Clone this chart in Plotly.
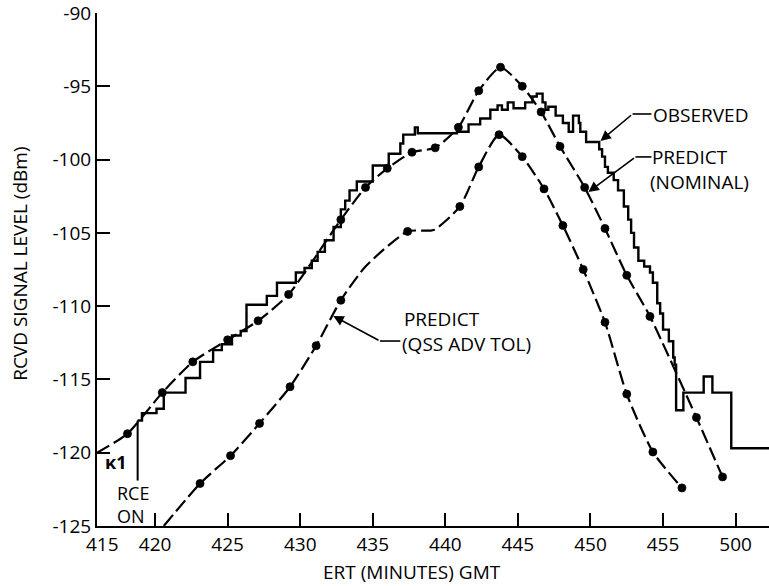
import plotly.graph_objects as go

# ---------------- data ----------------
obs_x = [418.8, 419.1, 420.1, 420.6, 422.1, 423.1, 424.0, 424.6, 425.3, 425.9, 426.3, 427.7, 428.4,
         429.7, 430.3, 430.8, 431.2, 431.7, 432.3, 432.8, 433.1, 433.4, 433.9, 435.0, 436.1, 436.9,
         437.1, 437.9, 438.1, 440.8, 441.6, 442.4, 443.1, 443.6, 443.9, 444.3, 444.7, 445.5, 446.0,
         446.3, 446.7, 446.9, 447.1, 447.6, 448.1, 448.5, 448.8, 449.2, 449.3, 449.7, 450.6, 450.8,
         451.0, 451.2, 451.6, 451.9, 452.3, 452.6, 452.8, 453.0, 453.3, 453.7, 454.1, 454.3, 454.6,
         454.8, 455.0, 455.4, 455.7, 455.8, 455.9, 456.4, 457.8, 458.4, 459.7, 462.3]
obs_y = [-117.8, -117.3, -117.0, -115.9, -114.9, -113.8, -113.0, -112.6, -112.0, -111.7, -109.9, -109.3,
         -108.4, -107.7, -107.4, -106.9, -106.3, -105.5, -104.6, -103.4, -102.8, -102.1, -101.5, -100.4,
         -99.6, -98.9, -98.3, -97.8, -98.2, -98.1, -97.6, -97.2, -96.6, -96.3, -96.6, -96.1, -96.5,
         -96.1, -95.7, -95.5, -96.1, -96.6, -96.4, -97.0, -97.5, -98.1, -97.0, -97.5, -98.1, -98.8,
         -99.3, -99.8, -100.5, -100.9, -101.4, -102.1, -103.2, -104.1, -105.0, -106.0, -106.9, -107.3,
         -107.7, -108.4, -109.8, -110.5, -111.6, -112.4, -113.5, -114.0, -117.1, -115.9, -114.8,
         -115.9, -119.7, -119.7]

nom_x = [416.0, 418.1, 420.5, 422.6, 425.0, 427.1, 429.2, 432.8, 434.5, 436.0, 437.7, 439.3,
         440.9, 442.3, 443.8, 445.3, 446.6, 447.9, 449.6, 451.0, 452.5, 454.1, 457.3, 459.1]
nom_y = [-120.0, -118.7, -115.9, -113.8, -112.3, -111.0, -109.2, -104.1, -101.9, -100.6, -99.5, -99.2,
         -97.8, -95.3, -93.7, -95.0, -96.75, -99.1, -101.9, -104.7, -107.9, -110.7, -117.6, -121.65]

qss_x = [420.6, 423.1, 425.2, 427.2, 429.3, 431.1, 432.8, 434.5, 437.4, 439.2, 441.0, 442.3,
         443.7, 445.3, 446.8, 448.1, 449.5, 451.0, 452.5, 454.3, 456.3]
qss_y = [-125.0, -122.1, -120.2, -118.0, -115.5, -112.7, -109.6, -107.3, -104.9, -104.8, -103.2, -100.5,
         -98.3, -99.8, -102.0, -104.5, -107.5, -111.1, -116.0, -119.95, -122.4]

x_tick_vals = [420, 425, 430, 435, 440, 445, 450, 455, 460]
x_tick_text = ["420", "425", "430", "435", "440", "445", "450", "455", "500"]
y_tick_vals = [-125, -120, -115, -110, -105, -100, -95, -90]
y_tick_text = ["-125", "-120", "-115", "-110", "-105", "-100", "-95", "-90"]

FONT = "Open Sans"
BLACK = "#000000"

fig = go.Figure()

def dots(xs, skip):
    return [0 if i in skip else 8 for i in range(len(xs))]

for xs, ys, skip, nm in [(nom_x, nom_y, {0}, "PREDICT (NOMINAL)"),
                         (qss_x, qss_y, {0, 7, 9}, "PREDICT (QSS ADV TOL)")]:
    fig.add_trace(go.Scatter(x=xs, y=ys, mode="lines", name=nm,
                             line=dict(color=BLACK, width=2.2, dash="14px,5px",
                                       shape="spline", smoothing=0.6)))
    fig.add_trace(go.Scatter(x=xs, y=ys, mode="markers", name=nm,
                             marker=dict(color=BLACK, opacity=1, size=dots(xs, skip),
                                         line=dict(width=0.8, color=BLACK))))
fig.add_trace(go.Scatter(x=obs_x, y=obs_y, mode="lines",
                         line=dict(color=BLACK, width=2.4, shape="hv"), name="OBSERVED"))

# RCE ON marker line
fig.add_shape(type="line", x0=obs_x[0], x1=obs_x[0], y0=obs_y[0], y1=-121.9,
              line=dict(color=BLACK, width=2), xref="x", yref="y")

tf = dict(family=FONT, size=19, color=BLACK)
sf = dict(family=FONT, size=18, color=BLACK)

def label(x, y, text, xanchor="left", font=tf):
    fig.add_annotation(x=x, y=y, xref="x", yref="y", text=text, showarrow=False,
                       xanchor=xanchor, yanchor="middle", align="left", font=font)

def pointer(hx, hy, tx, ty, ex):
    fig.add_annotation(x=hx, y=hy, ax=tx, ay=ty, xref="x", yref="y", axref="x", ayref="y",
                       text="", showarrow=True, arrowhead=2, arrowsize=1.3, arrowwidth=1.6,
                       arrowcolor=BLACK)
    fig.add_shape(type="line", x0=tx, x1=ex, y0=ty, y1=ty, xref="x", yref="y",
                  line=dict(color=BLACK, width=1.6))

label(454.2, -96.95, "OBSERVED")
pointer(450.69, -98.73, 452.9, -96.89, 454.2)
label(453.95, -100.7, "&#8202;PREDICT<br>(NOMINAL)")
pointer(449.86, -102.21, 453.1, -99.82, 454.2)
label(436.9, -111.75, "&#8202;PREDICT<br>(QSS ADV TOL)")
pointer(432.28, -110.67, 435.5, -112.38, 436.9)
label(417.24, -123.5, "RCE<br>ON", "left", sf)
label(417.25, -120.6, "<b>ĸ1</b>", "center", dict(family=FONT, size=18, color=BLACK))

# axis titles and the first x tick label
fig.add_annotation(x=416.35, y=0, xref="x", yref="paper", text="415", showarrow=False,
                   yanchor="top", yshift=-3, font=tf)
fig.add_annotation(x=0.469, y=-0.0897, xref="paper", yref="paper", text="ERT (MINUTES) GMT",
                   showarrow=False, xanchor="center", yanchor="middle", font=tf)
fig.add_annotation(x=-0.1146, y=0.511, xref="paper", yref="paper", text="RCVD SIGNAL LEVEL (dBm)",
                   showarrow=False, textangle=-90, xanchor="center", yanchor="middle", font=tf)

fig.update_layout(
    width=769, height=586,
    margin=dict(l=97, r=0, t=13, b=60),
    paper_bgcolor="white", plot_bgcolor="white",
    showlegend=False,
    xaxis=dict(range=[416.0, 462.3], tickvals=x_tick_vals, ticktext=x_tick_text,
               ticks="inside", ticklen=13, tickwidth=1.5, tickcolor=BLACK,
               showline=True, linewidth=2, linecolor=BLACK, showgrid=False, zeroline=False,
               tickfont=tf, ticklabeloverflow="allow"),
    yaxis=dict(range=[-125, -90], tickvals=y_tick_vals, ticktext=y_tick_text,
               ticks="inside", ticklen=13, tickwidth=1.5, tickcolor=BLACK,
               showline=True, linewidth=2, linecolor=BLACK, showgrid=False, zeroline=False,
               tickfont=tf, ticklabeloverflow="allow"),
)

fig.write_html("out.html")
